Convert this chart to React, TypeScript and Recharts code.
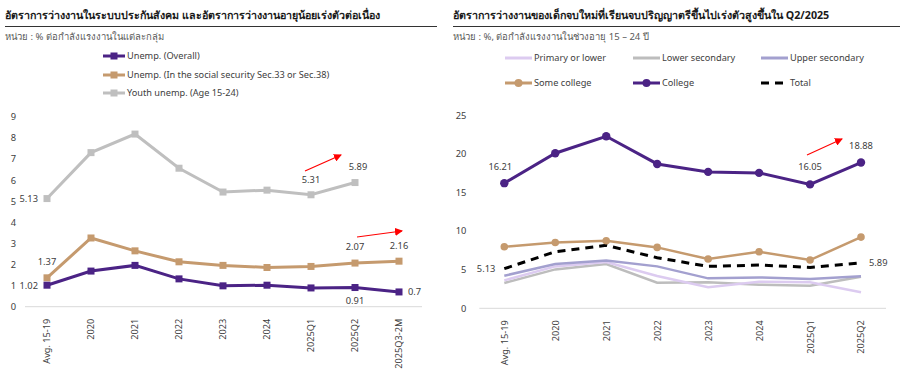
import React from 'react';
import { LineChart, Line, XAxis, YAxis, LabelList } from 'recharts';

// left panel
const leftCats = ['Avg. 15-19', '2020', '2021', '2022', '2023', '2024', '2025Q1', '2025Q2', '2025Q3-2M'];
const unempOverall = [1.02, 1.69, 1.96, 1.32, 0.99, 1.02, 0.89, 0.91, 0.7];
const unempSocial = [1.37, 3.26, 2.65, 2.13, 1.96, 1.86, 1.91, 2.07, 2.16];
const unempYouth = [5.13, 7.31, 8.19, 6.57, 5.44, 5.53, 5.31, 5.89, null];
const leftTicks = [0, 1, 2, 3, 4, 5, 6, 7, 8, 9];

// right panel
const rightCats = ['Avg. 15-19', '2020', '2021', '2022', '2023', '2024', '2025Q1', '2025Q2'];
const primary = [3.62, 5.43, 6.0, 4.18, 2.72, 3.45, 3.36, 2.07];
const lowerSec = [3.28, 5.04, 5.73, 3.32, 3.36, 3.06, 2.93, 4.09];
const upperSec = [4.22, 5.73, 6.2, 5.43, 3.88, 4.0, 3.8, 4.14];
const someCollege = [7.97, 8.53, 8.75, 7.89, 6.38, 7.33, 6.25, 9.22];
const college = [16.21, 20.09, 22.28, 18.7, 17.67, 17.54, 16.05, 18.88];
const total = [5.13, 7.33, 8.15, 6.55, 5.43, 5.6, 5.3, 5.89];
const rightTicks = [0, 5, 10, 15, 20, 25];

const leftData = leftCats.map((cat, i) => ({
  cat,
  overall: unempOverall[i],
  social: unempSocial[i],
  youth: unempYouth[i],
}));

const rightData = rightCats.map((cat, i) => ({
  cat,
  primary: primary[i],
  lower: lowerSec[i],
  upper: upperSec[i],
  some: someCollege[i],
  college: college[i],
  total: total[i],
}));

const FONT = "'Noto Sans', 'DejaVu Sans', sans-serif";
const TXT = '#404040';
const PURPLE = '#4b2385';
const TAN = '#c59a6e';
const GREY = '#bfbfbf';

// which points get a value label: index -> [dx, dy, anchor]
type Spots = Record<number, [number, number, 'start' | 'middle' | 'end']>;
const youthSpots: Spots = { 0: [-9, 0, 'end'], 6: [0, -15, 'middle'], 7: [3, -16, 'middle'] };
const socialSpots: Spots = { 0: [0, -16, 'middle'], 7: [0, -17, 'middle'], 8: [0, -16, 'middle'] };
const overallSpots: Spots = { 0: [-9, 0, 'end'], 7: [0, 13, 'middle'], 8: [9, 0, 'start'] };
const collegeSpots: Spots = { 0: [-4, -17, 'middle'], 6: [0, -18, 'middle'], 7: [0, -17, 'middle'] };
const totalSpots: Spots = { 0: [-9, 0, 'end'], 7: [8, 0, 'start'] };

const makeLabel = (spots: Spots) => (p: any) => {
  const s = spots[p.index];
  if (!s || p.value == null) return null;
  return (
    <text
      key={`lb-${p.index}`}
      x={p.x + s[0]}
      y={p.y + s[1]}
      textAnchor={s[2]}
      dominantBaseline="central"
      fontSize={9.3}
      fontFamily={FONT}
      fill={TXT}
    >
      {p.value}
    </text>
  );
};

const squareDot = (color: string) => (p: any) => {
  if (p.cy == null || p.value == null) return <g key={`d-${p.index}`} />;
  return <rect key={`d-${p.index}`} x={p.cx - 3.5} y={p.cy - 3.5} width={7} height={7} fill={color} />;
};

const XTick = (props: any) => {
  const { x, y, payload } = props;
  const ty = y + 4;
  return (
    <text
      x={x}
      y={ty}
      transform={`rotate(-90 ${x} ${ty})`}
      textAnchor="end"
      dominantBaseline="central"
      fontSize={9.2}
      fontFamily={FONT}
      fill={TXT}
    >
      {payload.value}
    </text>
  );
};

const tickStyle = { fontSize: 9.3, fill: TXT, fontFamily: FONT };

const LegendLine = ({ color, marker, dashed, w }: { color: string; marker?: 'square' | 'circle'; dashed?: boolean; w: number }) => (
  <svg width={w} height={10} style={{ display: 'block' }}>
    <line x1={0} y1={5} x2={w} y2={5} stroke={color} strokeWidth={3} strokeDasharray={dashed ? '8 6' : undefined} />
    {marker === 'square' && <rect x={w / 2 - 3.5} y={1.5} width={7} height={7} fill={color} />}
    {marker === 'circle' && <circle cx={w / 2} cy={5} r={4} fill={color} />}
  </svg>
);

const LegendItem = ({ left, top, label, ...rest }: any) => (
  <div style={{ position: 'absolute', left, top, display: 'flex', alignItems: 'center', gap: 2, fontSize: 9.2, color: TXT, whiteSpace: 'nowrap' }}>
    <LegendLine {...rest} />
    <span>{label}</span>
  </div>
);

const Header = ({ left, width, title, unit }: { left: number; width: number; title: string; unit: string }) => (
  <>
    <div style={{ position: 'absolute', left, top: 7, fontSize: 10.7, fontWeight: 700, color: '#1a1a1a', whiteSpace: 'nowrap' }}>{title}</div>
    <div style={{ position: 'absolute', left, top: 26, width, height: 1.3, background: '#333' }} />
    <div style={{ position: 'absolute', left, top: 29, fontSize: 9.5, color: '#595959', whiteSpace: 'nowrap' }}>{unit}</div>
  </>
);

export default function App() {
  return (
    <div style={{ position: 'absolute', left: 0, top: 0, width: 903, height: 370, background: '#fff', fontFamily: FONT, overflow: 'hidden' }}>
      <Header left={5} width={432} title="อัตราการว่างงานในระบบประกันสังคม และอัตราการว่างงานอายุน้อยเร่งตัวต่อเนื่อง" unit="หน่วย : % ต่อกำลังแรงงานในแต่ละกลุ่ม" />
      <Header left={453} width={447} title="อัตราการว่างงานของเด็กจบใหม่ที่เรียนจบปริญญาตรีขึ้นไปเร่งตัวสูงขึ้นใน Q2/2025" unit="หน่วย : %, ต่อกำลังแรงงานในช่วงอายุ 15 – 24 ปี" />

      <LegendItem left={103} top={49} w={22} label="Unemp. (Overall)" color={PURPLE} marker="square" />
      <LegendItem left={103} top={68} w={22} label="Unemp. (In the social security Sec.33 or Sec.38)" color={TAN} marker="square" />
      <LegendItem left={103} top={86} w={22} label="Youth unemp. (Age 15-24)" color={GREY} marker="square" />

      <LegendItem left={505} top={51} w={27} label="Primary or lower" color="#dccbf0" />
      <LegendItem left={633} top={51} w={27} label="Lower secondary" color="#bdbdbd" />
      <LegendItem left={761} top={51} w={27} label="Upper secondary" color="#a3a0cf" />
      <LegendItem left={505} top={76} w={27} label="Some college" color={TAN} marker="circle" />
      <LegendItem left={633} top={76} w={27} label="College" color={PURPLE} marker="circle" />
      <LegendItem left={761} top={76} w={27} label="Total" color="#000" dashed />

      <div style={{ position: 'absolute', left: 0, top: 100 }}>
        <LineChart width={440} height={270} data={leftData} margin={{ top: 17, right: 18, bottom: 0, left: 0 }}>
          <XAxis dataKey="cat" interval={0} height={63.3} padding={{ left: 22, right: 23 }} tickLine={false} axisLine={{ stroke: '#d9d9d9' }} tick={<XTick />} />
          <YAxis width={25} domain={[0, 9]} ticks={leftTicks} axisLine={false} tickLine={false} tickSize={0} tickMargin={9} tick={tickStyle} />
          <Line dataKey="youth" stroke={GREY} strokeWidth={3} dot={squareDot(GREY)} isAnimationActive={false} connectNulls={false}>
            <LabelList dataKey="youth" content={makeLabel(youthSpots)} />
          </Line>
          <Line dataKey="social" stroke={TAN} strokeWidth={3} dot={squareDot(TAN)} isAnimationActive={false}>
            <LabelList dataKey="social" content={makeLabel(socialSpots)} />
          </Line>
          <Line dataKey="overall" stroke={PURPLE} strokeWidth={3} dot={squareDot(PURPLE)} isAnimationActive={false}>
            <LabelList dataKey="overall" content={makeLabel(overallSpots)} />
          </Line>
        </LineChart>
      </div>

      <div style={{ position: 'absolute', left: 450, top: 100 }}>
        <LineChart width={453} height={270} data={rightData} margin={{ top: 15.3, right: 17, bottom: 0, left: 0 }}>
          <XAxis dataKey="cat" interval={0} height={61.7} padding={{ left: 25, right: 25 }} tickLine={false} axisLine={{ stroke: '#d9d9d9' }} tick={<XTick />} />
          <YAxis width={29.3} domain={[0, 25]} ticks={rightTicks} axisLine={false} tickLine={false} tickSize={0} tickMargin={13} tick={tickStyle} />
          <Line dataKey="lower" stroke="#bdbdbd" strokeWidth={2.5} dot={false} isAnimationActive={false} />
          <Line dataKey="primary" stroke="#dccbf0" strokeWidth={2.5} dot={false} isAnimationActive={false} />
          <Line dataKey="upper" stroke="#a3a0cf" strokeWidth={2.5} dot={false} isAnimationActive={false} />
          <Line dataKey="total" stroke="#000" strokeWidth={3} strokeDasharray="8 6" dot={false} isAnimationActive={false}>
            <LabelList dataKey="total" content={makeLabel(totalSpots)} />
          </Line>
          <Line dataKey="some" stroke={TAN} strokeWidth={2.5} dot={{ r: 3.8, fill: TAN, stroke: TAN, strokeWidth: 0 }} isAnimationActive={false} />
          <Line dataKey="college" stroke={PURPLE} strokeWidth={3} dot={{ r: 4.2, fill: PURPLE, stroke: PURPLE, strokeWidth: 0 }} isAnimationActive={false}>
            <LabelList dataKey="college" content={makeLabel(collegeSpots)} />
          </Line>
        </LineChart>
      </div>

      {/* red trend arrows (annotations) */}
      <svg width={903} height={370} style={{ position: 'absolute', left: 0, top: 0, pointerEvents: 'none' }}>
        <defs>
          <marker id="ah" markerWidth={8} markerHeight={8} refX={7} refY={4} orient="auto" markerUnits="userSpaceOnUse">
            <path d="M0,0 L8,4 L0,8 z" fill="#ff0000" />
          </marker>
        </defs>
        <line x1={305} y1={171} x2={341} y2={155} stroke="#ff0000" strokeWidth={1.2} markerEnd="url(#ah)" />
        <line x1={357} y1={237} x2={402} y2={231} stroke="#ff0000" strokeWidth={1.2} markerEnd="url(#ah)" />
        <line x1={807} y1={155} x2={842} y2={139} stroke="#ff0000" strokeWidth={1.2} markerEnd="url(#ah)" />
      </svg>
    </div>
  );
}
